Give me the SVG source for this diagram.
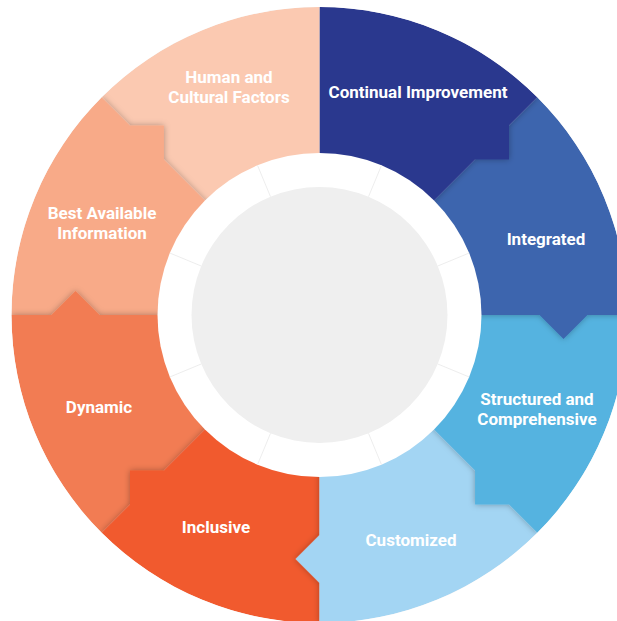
<svg xmlns="http://www.w3.org/2000/svg" width="617" height="621" viewBox="0 0 617 621">
<defs>
<filter id="sh" x="-20%" y="-20%" width="140%" height="140%">
<feDropShadow dx="0" dy="0" stdDeviation="3" flood-color="#000" flood-opacity="0.3"/>
</filter>
<clipPath id="outer"><circle cx="319.5" cy="315" r="308"/></clipPath>
<clipPath id="rightHalf"><rect x="319.5" y="0" width="320" height="621"/></clipPath>
<style>
.seg{filter:url(#sh);}
.lbl{font-family:Roboto,"Liberation Sans",sans-serif;font-weight:700;font-size:17px;fill:#fff;text-anchor:middle;}
.tick{stroke:#e9e9e9;stroke-width:0.8;}
</style>
</defs>
<rect width="617" height="621" fill="#fff"/>
<g id="ring" clip-path="url(#outer)">
<g id="human">
<path class="seg" fill="#fbc9b1" d="M319.5,315 L101.71,97.21 A308,308 0 0 1 319.5,7 Z"/>
<text class="lbl" x="229" y="82.5">Human and</text>
<text class="lbl" x="229" y="102.5">Cultural Factors</text>
</g>
<g id="best-available">
<path class="seg" fill="#f8aa88" d="M319.5,315 L11.5,315 A308,308 0 0 1 101.71,97.21 L130,125.5 L163.94,125.5 L163.94,159.44 Z"/>
<text class="lbl" x="102" y="219">Best Available</text>
<text class="lbl" x="102" y="238.5">Information</text>
</g>
<g id="dynamic">
<path class="seg" fill="#f27c52" d="M319.5,315 L101.71,532.79 A308,308 0 0 1 11.5,315 L51.5,315 L75.5,291 L99.5,315 Z"/>
<text class="lbl" x="99" y="413">Dynamic</text>
</g>
<g id="inclusive">
<path class="seg" fill="#f15a2f" d="M319.5,315 L319.5,623 A308,308 0 0 1 101.71,532.79 L130,504.5 L130,470.56 L163.94,470.56 Z"/>
<text class="lbl" x="216" y="533">Inclusive</text>
</g>
<g id="customized">
<path class="seg" fill="#a3d5f3" d="M319.5,315 L537.29,532.79 A308,308 0 0 1 319.5,623 L319.5,583 L295.5,559 L319.5,535 Z"/>
<text class="lbl" x="411" y="546">Customized</text>
</g>
<g id="structured">
<path class="seg" fill="#55b3e0" d="M319.5,315 L627.5,315 A308,308 0 0 1 537.29,532.79 L509,504.5 L475.06,504.5 L475.06,470.56 Z"/>
<text class="lbl" x="537" y="405">Structured and</text>
<text class="lbl" x="537" y="425">Comprehensive</text>
</g>
<g id="integrated">
<path class="seg" fill="#3d65ae" d="M319.5,315 L537.29,97.21 A308,308 0 0 1 627.5,315 L587.5,315 L563.5,339 L539.5,315 Z"/>
<text class="lbl" x="546" y="245">Integrated</text>
</g>
<g id="continual" clip-path="url(#rightHalf)">
<path class="seg" fill="#2c388e" d="M319.5,315 L319.5,7 A308,308 0 0 1 537.29,97.21 L509,125.5 L509,159.44 L475.06,159.44 Z"/>
<text class="lbl" x="418" y="98">Continual Improvement</text>
</g>
</g>
<g id="hub">
<circle cx="319.5" cy="315" r="162" fill="#fff"/>
<g id="connectors">
<line class="tick" x1="368.5" y1="196.7" x2="381.5" y2="165.3"/>
<line class="tick" x1="437.8" y1="266" x2="469.2" y2="253"/>
<line class="tick" x1="437.8" y1="364" x2="469.2" y2="377"/>
<line class="tick" x1="368.5" y1="433.3" x2="381.5" y2="464.7"/>
<line class="tick" x1="270.5" y1="433.3" x2="257.5" y2="464.7"/>
<line class="tick" x1="201.2" y1="364" x2="169.8" y2="377"/>
<line class="tick" x1="201.2" y1="266" x2="169.8" y2="253"/>
<line class="tick" x1="270.5" y1="196.7" x2="257.5" y2="165.3"/>
</g>
<circle cx="319.5" cy="315" r="128" fill="#efefef"/>
</g>
</svg>
